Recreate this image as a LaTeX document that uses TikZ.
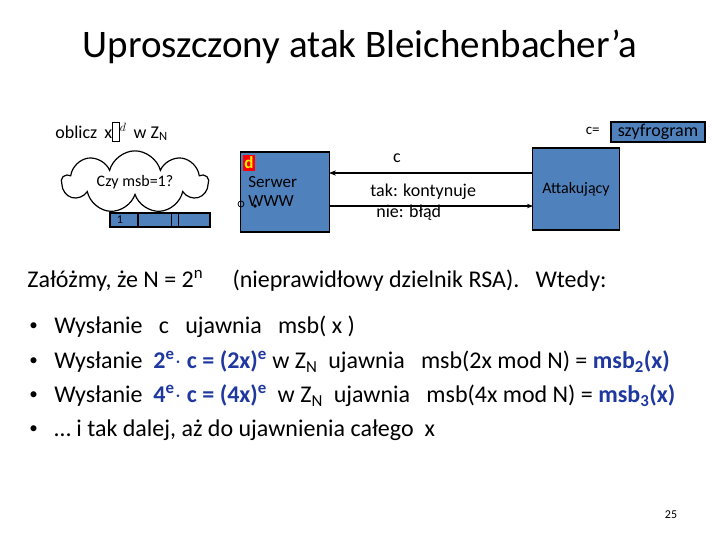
\documentclass[tikz,border=0pt]{standalone}
\usepackage{fontspec}
\setmainfont{Carlito}
\usetikzlibrary{shapes.symbols,arrows.meta}
\definecolor{boxblue}{RGB}{79,129,189}
\definecolor{hlblue}{RGB}{31,56,160}
\tikzset{every picture/.style={line width=0.75pt}}
\tikzset{
  bluebox/.style={draw=black, line width=1.5pt, fill=boxblue},
  txt/.style={anchor=west, inner sep=0pt, font=\fontsize{24}{26}\selectfont},
  small/.style={font=\fontsize{18}{19}\selectfont, inner sep=0pt},
}
\newcommand{\hl}[1]{\textcolor{hlblue}{\textbf{#1}}}
\begin{document}
\begin{tikzpicture}[x=1pt,y=1pt,yscale=-1]
    \useasboundingbox (0,0) rectangle (720,540);

    % Title
    \node (title) at (360,47) [font=\fontsize{39}{42}\selectfont] {Uproszczony atak Bleichenbacher’a};

    % Top line
    \node (oblicz) at (55,132) [small, anchor=west] {oblicz \,x\fbox{\vphantom{d}}\kern1pt$^{d}$ \,w Z$_{\mathrm{N}}$};
    \node (ceq) at (600,131) [small, anchor=east, font=\fontsize{15}{16}\selectfont] {c=};
    \node (szyfr) at (658,132) [bluebox, minimum width=94, minimum height=20, inner sep=0pt, small] {szyfrogram};

    % Cloud
    \node (cloud) at (135,182) [cloud, cloud puffs=9, aspect=3, draw, line width=1.2pt, minimum width=146, minimum height=46, inner sep=0pt, small, font=\fontsize{16}{17}\selectfont] {Czy msb=1?};

    % Memory bar
    \draw [line width=1.5pt, fill=boxblue] (110,213) rectangle (210,227);
    \draw [line width=1.5pt] (110,213) rectangle (138,227);
    \draw (171,213) -- (171,227) (178,213) -- (178,227);
    \node (one) at (120,220) [small, font=\fontsize{12}{12}\selectfont] {1};

    % Server
    \node (serwer) at (285,192) [bluebox, minimum width=89, minimum height=80] {};
    \node (d) at (249,163) [fill=red, inner sep=1.5pt, text=yellow, font=\fontsize{17}{18}\selectfont\bfseries] {d};
    \node (sname) at (248,191) [small, anchor=west, align=left, font=\fontsize{17}{19}\selectfont] {Serwer\\ WWW};
    \draw (241,204) circle (3);
    \fill (255,206) circle (1.8);

    % Attacker
    \node (atak) at (576,189) [bluebox, minimum width=87, minimum height=82, small, font=\fontsize{16}{17}\selectfont] {Attakujący};

    % Connectors
    \coordinate (cin) at (533,173);
    \coordinate (cout) at (329,173);
    \draw [-{Stealth[length=7pt]}, line width=1.2pt] (cin) -- (cout);
    \coordinate (rin) at (329,206);
    \coordinate (rout) at (533,206);
    \draw [-{Stealth[length=6pt]}, line width=1.2pt] (rin) -- (rout);
    \node (clab) at (397,158) [small] {c};
    \node (tak) at (370,192) [small, anchor=west] {tak: kontynuje};
    \node (nie) at (376,213) [small, anchor=west] {nie: błąd};

    % Text
    \node (zal) at (27,281) [txt] {Załóżmy, że N = 2\textsuperscript{n} \quad (nieprawidłowy dzielnik RSA). \ \ Wtedy:};
    \foreach \y/\t in {
      327/{Wysłanie \ \ c \ \ ujawnia \ \ msb( x )},
      362/{Wysłanie \ \hl{2\textsuperscript{e}$\cdot$ c = (2x)\textsuperscript{e}} w Z$_{\mathrm{N}}$ \ ujawnia \ \ msb(2x mod N) = \hl{msb$_{\mathbf 2}$(x)}},
      396/{Wysłanie \ \hl{4\textsuperscript{e}$\cdot$ c = (4x)\textsuperscript{e}} \ w Z$_{\mathrm{N}}$ \ ujawnia \ \ msb(4x mod N) = \hl{msb$_{\mathbf 3}$(x)}},
      430/{… i tak dalej, aż do ujawnienia całego \ x}}
    {
      \node at (29,\y) [txt, font=\fontsize{17}{18}\selectfont] {•};
      \node at (54,\y) [txt] {\t};
    }

    \node (page) at (671,515) [font=\fontsize{12}{12}\selectfont] {25};
\end{tikzpicture}
\end{document}
